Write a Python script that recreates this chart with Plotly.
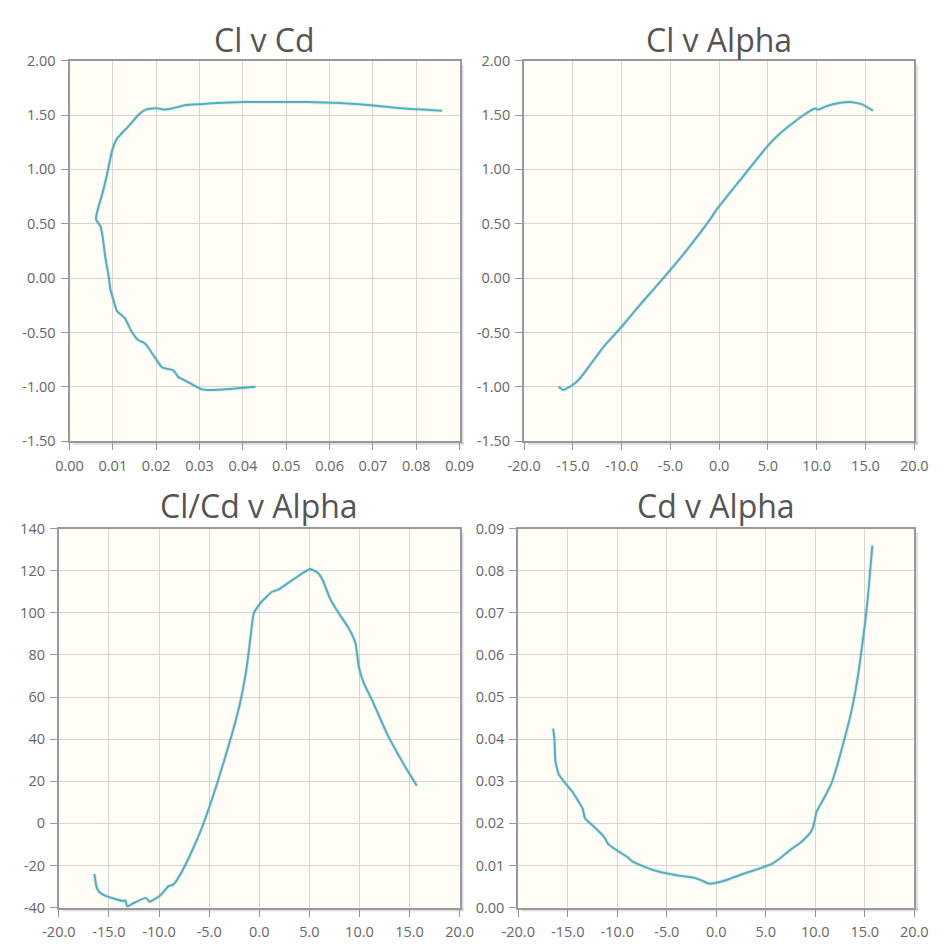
import plotly.graph_objects as go

# ---- Data ----
# Chart 1: Cl v Cd (polar)
polar_cd = [0.0429, 0.0370, 0.0325, 0.0303, 0.0280, 0.0251, 0.0240, 0.0213, 0.0202, 0.0176,
            0.0169, 0.0158, 0.0143, 0.0128, 0.0109, 0.0102, 0.0094, 0.0091, 0.0083, 0.0076,
            0.0071, 0.0061, 0.0065, 0.0076, 0.0087, 0.0098, 0.0109, 0.0120, 0.0139, 0.0161,
            0.0176, 0.0191, 0.0206, 0.0217, 0.0236, 0.0266, 0.0303, 0.0340, 0.0399, 0.0474,
            0.0548, 0.0623, 0.0697, 0.0771, 0.0859]
polar_cl = [-1.00, -1.02, -1.03, -1.02, -0.97, -0.91, -0.85, -0.82, -0.76, -0.61,
            -0.59, -0.57, -0.49, -0.37, -0.30, -0.21, -0.10, 0.00, 0.18, 0.39,
            0.48, 0.54, 0.63, 0.78, 0.96, 1.17, 1.28, 1.33, 1.41, 1.51,
            1.55, 1.56, 1.56, 1.55, 1.56, 1.59, 1.60, 1.61, 1.62, 1.62,
            1.62, 1.61, 1.59, 1.56, 1.54]

# Chart 2: Cl v Alpha
cl_alpha = [-16.46, -15.97, -14.81, -14.15, -11.83, -10.02, -7.87, -5.72, -3.57, -0.93,
            -0.26, 2.05, 5.02, 6.35, 8.66, 9.82, 10.15, 10.98, 12.30, 13.45, 14.61, 15.77]
cl_values = [-1.00, -1.03, -0.97, -0.91, -0.63, -0.45, -0.22, 0.00, 0.23, 0.54,
             0.63, 0.89, 1.22, 1.34, 1.50, 1.56, 1.55, 1.58, 1.61, 1.62, 1.60, 1.54]

# Chart 3: Cl/Cd v Alpha
ld_alpha = [-16.46, -16.24, -15.98, -15.49, -14.53, -13.56, -13.35, -13.18, -12.60, -11.31,
            -10.93, -9.86, -9.06, -8.58, -7.77, -6.65, -5.68, -4.23, -2.94, -1.98,
            -1.34, -1.01, -0.53, 0.27, 1.24, 1.88, 2.85, 4.14, 5.10, 5.91,
            6.39, 7.03, 7.68, 8.96, 9.61, 9.93, 10.41, 11.21, 12.82, 14.43, 15.72]
ld_values = [-24.0, -30.2, -32.6, -34.1, -35.7, -36.9, -36.6, -39.5, -38.0, -35.4,
             -37.2, -34.1, -29.8, -29.1, -23.3, -12.4, -1.5, 18.6, 38.8, 55.9,
             71.4, 83.0, 100.1, 105.5, 109.9, 111.0, 114.1, 118.3, 120.8, 118.7,
             114.9, 107.1, 101.7, 92.4, 85.4, 74.5, 66.8, 59.0, 41.9, 28.0, 17.9]

# Chart 4: Cd v Alpha
cd_alpha = [-16.48, -16.35, -16.25, -15.93, -15.44, -14.63, -13.97, -13.49, -13.26, -12.35,
            -11.37, -10.88, -9.90, -8.92, -8.44, -7.46, -6.48, -5.18, -3.88, -2.25,
            -1.43, -0.78, 0.03, 1.34, 2.96, 4.27, 5.57, 6.55, 7.52, 8.50,
            9.48, 9.80, 10.13, 10.94, 11.60, 12.25, 13.06, 13.71, 14.36, 15.02,
            15.34, 15.77]
cd_values = [0.0425, 0.0402, 0.0348, 0.0317, 0.0301, 0.0278, 0.0254, 0.0235, 0.0212, 0.0192,
             0.0169, 0.0150, 0.0134, 0.0119, 0.0109, 0.0099, 0.0090, 0.0082, 0.0076, 0.0071,
             0.0064, 0.0057, 0.0059, 0.0068, 0.0082, 0.0092, 0.0103, 0.0119, 0.0138, 0.0154,
             0.0177, 0.0192, 0.0227, 0.0262, 0.0293, 0.0340, 0.0410, 0.0472, 0.0557, 0.0673,
             0.0743, 0.0860]

titles = ["Cl v Cd", "Cl v Alpha", "Cl/Cd v Alpha", "Cd v Alpha"]

# tick values and labels
cd_ticks = [0.00, 0.01, 0.02, 0.03, 0.04, 0.05, 0.06, 0.07, 0.08, 0.09]
cd_tick_labels = ["0.00", "0.01", "0.02", "0.03", "0.04", "0.05", "0.06", "0.07", "0.08", "0.09"]
cl_ticks = [-1.5, -1.0, -0.5, 0.0, 0.5, 1.0, 1.5, 2.0]
cl_tick_labels = ["-1.50", "-1.00", "-0.50", "0.00", "0.50", "1.00", "1.50", "2.00"]
alpha_ticks = [-20, -15, -10, -5, 0, 5, 10, 15, 20]
alpha_tick_labels = ["-20.0", "-15.0", "-10.0", "-5.0", "0.0", "5.0", "10.0", "15.0", "20.0"]
ld_ticks = [-40, -20, 0, 20, 40, 60, 80, 100, 120, 140]
ld_tick_labels = ["-40", "-20", "0", "20", "40", "60", "80", "100", "120", "140"]

# ---- Layout (pixel geometry of the window) ----
W = H = 944
LINE = "#4bb2c5"
BG = "#fffdf6"
GRID = "#d6d6d6"
BORDER = "#999999"
FONT = "Open Sans"

# plot rectangles in window pixels: (left, right, top, bottom)
rects = [
    (54.3, 457.7, 51.7, 440.0),
    (524.3, 927.7, 51.7, 440.0),
    (43.3, 457.7, 529.3, 916.0),
    (518.3, 927.7, 529.3, 916.0),
]
title_y = [30, 30, 506, 506]

fig = go.Figure()
series = [(polar_cd, polar_cl), (cl_alpha, cl_values), (ld_alpha, ld_values), (cd_alpha, cd_values)]
xcfg = [
    dict(range=[0, 0.09], tickvals=cd_ticks, ticktext=cd_tick_labels),
    dict(range=[-20, 20], tickvals=alpha_ticks, ticktext=alpha_tick_labels),
    dict(range=[-20, 20], tickvals=alpha_ticks, ticktext=alpha_tick_labels),
    dict(range=[-20, 20], tickvals=alpha_ticks, ticktext=alpha_tick_labels),
]
ycfg = [
    dict(range=[-1.5, 2.0], tickvals=cl_ticks, ticktext=cl_tick_labels),
    dict(range=[-1.5, 2.0], tickvals=cl_ticks, ticktext=cl_tick_labels),
    dict(range=[-40, 140], tickvals=ld_ticks, ticktext=ld_tick_labels),
    dict(range=[0, 0.09], tickvals=cd_ticks, ticktext=cd_tick_labels),
]


def px_x(v):
    return v / W


def px_y(v):
    return 1 - v / H


shapes = []
annotations = []
for i, ((xs, ys), (l, r, t, b)) in enumerate(zip(series, rects)):
    n = "" if i == 0 else str(i + 1)
    fig.add_trace(go.Scatter(
        x=xs, y=ys, mode="lines", xaxis="x" + n, yaxis="y" + n,
        line=dict(color="rgba(0,0,0,0.07)", width=4, shape="spline", smoothing=0.4),
        hoverinfo="skip", showlegend=False))
    fig.add_trace(go.Scatter(
        x=xs, y=ys, mode="lines", xaxis="x" + n, yaxis="y" + n,
        line=dict(color=LINE, width=2, shape="spline", smoothing=0.4),
        showlegend=False))
    common = dict(showgrid=True, gridcolor=GRID, gridwidth=1, zeroline=False,
                  showline=True, linecolor=BORDER, linewidth=2, mirror=True,
                  ticks="outside", ticklen=7, tickcolor=BORDER, tickwidth=1,
                  tickfont=dict(family=FONT, size=14.5, color="#666666"))
    fig.layout["xaxis" + n] = dict(
        domain=[px_x(l), px_x(r)], anchor="y" + n, ticklabelstandoff=3,
        **common, **xcfg[i])
    fig.layout["yaxis" + n] = dict(
        domain=[px_y(b), px_y(t)], anchor="x" + n, ticklabelstandoff=2,
        **common, **ycfg[i])
    shapes.append(dict(type="rect", xref="paper", yref="paper", layer="below",
                       x0=px_x(l), x1=px_x(r), y0=px_y(b), y1=px_y(t),
                       fillcolor=BG, line=dict(width=0)))
    shapes.append(dict(type="line", xref="paper", yref="paper", layer="below",
                       x0=px_x(r + 2.5), x1=px_x(r + 2.5), y0=px_y(b + 3), y1=px_y(t + 4),
                       line=dict(color="rgba(0,0,0,0.12)", width=3)))
    shapes.append(dict(type="line", xref="paper", yref="paper", layer="below",
                       x0=px_x(l + 4), x1=px_x(r + 4), y0=px_y(b + 2.5), y1=px_y(b + 2.5),
                       line=dict(color="rgba(0,0,0,0.12)", width=3)))
    annotations.append(dict(text=titles[i], xref="paper", yref="paper",
                            x=px_x((l + r) / 2), y=px_y(title_y[i]),
                            xanchor="center", yanchor="middle", showarrow=False,
                            font=dict(family=FONT, size=32, color="#555555")))

fig.update_layout(
    width=W, height=H, margin=dict(l=0, r=0, t=0, b=0),
    paper_bgcolor="white", plot_bgcolor="rgba(0,0,0,0)",
    shapes=shapes, annotations=annotations, showlegend=False,
)

fig.write_html(
    "out.html",
    config={"displayModeBar": False},
    post_script="document.body.style.margin='0px';document.body.style.overflow='hidden';",
)
